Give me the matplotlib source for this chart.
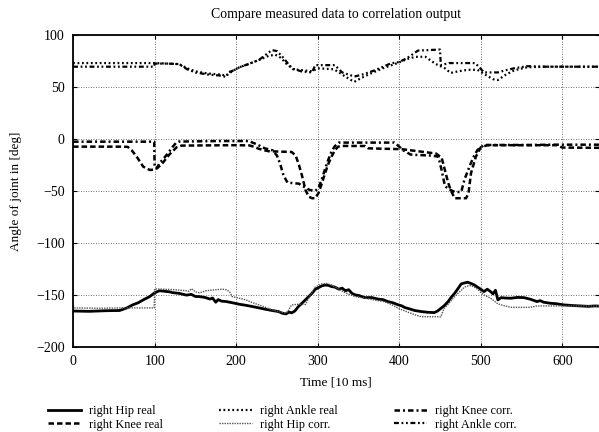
import numpy as np
import matplotlib
matplotlib.use('Agg')
import matplotlib.pyplot as plt

plt.rcParams['font.family'] = ['Liberation Serif', 'DejaVu Serif']

# (time [10 ms], angle [deg])
hip_real = [(0, -165.5), (20, -165.8), (40, -165.2), (57, -165.0), (66, -162.5), (73, -159.6),
            (80, -157.5), (86, -154.8), (94, -151.6), (100, -148), (106, -146), (112, -146.5),
            (118, -147), (122, -147.8), (130, -148.5), (139, -150.2), (145, -149.5), (150, -151.5),
            (155, -151.6), (162, -152.5), (168, -154), (171, -153), (175, -157), (178, -154.5),
            (182, -156), (188, -156.4), (195, -157.5), (204, -159), (212, -160), (220, -161.2),
            (228, -162.5), (236, -163.8), (244, -165), (252, -166), (256, -167.5), (261, -168.3),
            (265, -166.5), (268, -167.3), (272, -165.5), (276, -161.5), (282, -157), (289, -151.6),
            (293, -148.5), (297, -144.6), (301, -143), (305, -141.3), (309, -140.5), (313, -140.8),
            (317, -142), (321, -142.5), (326, -144.5), (330, -143.5), (334, -146), (338, -145),
            (342, -148.5), (346, -150), (350, -150.5), (358, -152.6), (366, -152.5), (374, -154),
            (380, -154.5), (386, -156.4), (392, -157.5), (399, -159.6), (403, -160.5), (407, -162.2),
            (413, -163.5), (419, -165), (427, -166), (435, -166.7), (443, -167), (447, -165.5),
            (451, -163), (455, -160.5), (460, -156.4), (464, -152), (468, -148.4), (472, -144),
            (476, -139.4), (480, -138.5), (484, -137.8), (488, -139), (492, -140.4), (496, -142.5),
            (500, -144.6), (504, -146.8), (508, -144.5), (512, -146.8), (515, -149), (518, -145.5),
            (521, -154.8), (525, -152.6), (530, -153), (537, -153.2), (545, -152.4), (553, -152.6),
            (561, -154.2), (569, -156.4), (573, -155.5), (577, -157), (585, -158), (593, -158.5),
            (602, -159.6), (612, -160.2), (622, -160.6), (632, -161), (640, -160.6), (645, -160.8)]

knee_real = [(0, -7.4), (60, -7.4), (67, -7.6), (72, -11), (78, -17), (86, -26.6), (94, -29.8),
             (100, -29.5), (104, -27.5), (110, -23), (118, -15), (127, -8), (133, -6.4), (160, -6.2),
             (200, -6), (216, -6.2), (222, -7.5), (228, -9.5), (235, -11), (240, -11.8), (255, -12.2),
             (268, -12.5), (273, -16), (277, -25), (281, -36), (285, -49), (289, -55.5), (293, -57),
             (297, -57), (301, -52), (305, -43), (309, -33), (313, -24), (317, -17), (321, -11),
             (325, -7.4), (330, -6.7), (358, -6.8), (362, -9), (380, -9.4), (403, -9.8), (415, -11),
             (430, -12.5), (445, -14), (452, -18), (456, -30), (460, -42), (463, -49), (468, -57),
             (482, -57), (485, -52), (488, -33), (494, -17), (500, -8), (508, -6), (550, -6),
             (594, -6), (600, -8.3), (645, -8.5)]

ankle_real = [(0, 73), (100, 73), (115, 72.5), (130, 72), (140, 68), (150, 65), (165, 63), (180, 62),
              (188, 61), (195, 65), (204, 69), (215, 72), (228, 76), (240, 80), (248, 81), (255, 78),
              (262, 72), (270, 67), (283, 66), (293, 65), (300, 68), (310, 67.5), (320, 67), (330, 62),
              (340, 57), (345, 55), (352, 58), (365, 63), (380, 68), (398, 73), (410, 77), (420, 79),
              (432, 79), (445, 72), (456, 68), (463, 63.5), (472, 65), (484, 66.5), (496, 66.5),
              (505, 62), (515, 57.5), (521, 56.7), (531, 62), (541, 66), (557, 69), (580, 69.5),
              (645, 69.5)]

hip_corr = [(0, -160), (2, -162.5), (30, -162.8), (60, -162.5), (99.5, -162.5), (100, -144.2),
            (110, -144.5), (125, -145), (139, -146), (142, -146.5), (145, -144), (150, -147),
            (155, -148), (163, -146), (175, -145), (183, -144.5), (188, -145), (192, -147),
            (195, -151.6), (203, -153), (212, -154.8), (220, -157.5), (228, -159.6), (236, -162),
            (244, -164.4), (252, -166), (261, -167.6), (264, -165), (268, -159.6), (276, -159),
            (285, -159.2), (291, -150), (297, -142.5), (305, -139.4), (311, -139), (317, -140.4),
            (323, -143), (329, -146), (337, -149), (346, -151.6), (358, -153.2), (370, -155),
            (382, -156.5), (390, -159), (399, -163), (407, -165.5), (415, -167.9), (421, -169.5),
            (427, -171), (439, -171), (451, -171), (455, -163), (460, -159), (468, -151.6),
            (474, -147), (480, -142.5), (484, -141.5), (488, -141), (492, -142.5), (496, -144.5),
            (500, -147.5), (504, -150), (512, -153.2), (521, -158.6), (529, -160.5), (537, -161.9),
            (549, -162), (561, -161.9), (569, -160.6), (585, -160.6), (610, -160.6), (645, -160.6)]

knee_corr = [(0, -2.6), (99.5, -2.6), (100, -27), (103, -28), (106, -23), (110, -20), (114, -16),
             (118, -12), (122, -7.7), (126, -4), (130, -2.5), (180, -2), (216, -2), (220, -3.5),
             (225, -5), (235, -9), (245, -11), (250, -16), (254, -24), (258, -35), (263, -42),
             (270, -42.5), (277, -43), (283, -46), (290, -49), (297, -50), (301, -47), (305, -39),
             (309, -29), (313, -20), (317, -12), (321, -7), (326, -3.5), (394, -3.5), (398, -6),
             (405, -11), (414, -15), (425, -15.5), (440, -16), (448, -17), (452, -30), (456, -45),
             (460, -48), (468, -51), (476, -51), (480, -39), (484, -31), (488, -23), (492, -16),
             (496, -10.6), (504, -5.8), (560, -5.8), (590, -5.5), (645, -5.5)]

ankle_corr = [(0, 69.5), (99.5, 69.5), (100, 72.5), (115, 72.5), (130, 72), (140, 67), (150, 64),
              (165, 62), (180, 61), (188, 59.6), (190, 64), (197, 66), (204, 69), (215, 72), (228, 76),
              (238, 82), (244, 85.5), (250, 84.5), (258, 78), (265, 71), (270, 67.5), (280, 65),
              (293, 64), (297, 71), (310, 71), (321, 71), (330, 64), (345, 60), (355, 62), (370, 66),
              (390, 72.8), (400, 74), (410, 78), (423, 85), (450, 86), (451, 71), (461, 73), (493, 73),
              (497, 70), (504, 64), (521, 64), (530, 66), (541, 68), (557, 70), (580, 69.5),
              (645, 69.5)]

series = [
    ('right Hip real', hip_real, dict(color='black', lw=2.0, ls='-')),
    ('right Knee real', knee_real, dict(color='black', lw=1.8, ls=(0, (2.2, 1.2)))),
    ('right Ankle real', ankle_real, dict(color='black', lw=1.6, ls=(0, (0.8, 1.2)))),
    ('right Hip corr.', hip_corr, dict(color='#555555', lw=1.0, ls=(0, (1, 0.8)))),
    ('right Knee corr.', knee_corr, dict(color='black', lw=1.8, ls=(0, (2.2, 1.2, 0.8, 1.2)))),
    ('right Ankle corr.', ankle_corr, dict(color='black', lw=1.6, ls=(0, (2.2, 1.2, 0.8, 1.2, 0.8, 1.2)))),
]

fig = plt.figure(figsize=(5.99, 4.32), dpi=100)
ax = fig.add_axes([0.122, 0.197, 0.878, 0.722])

for name, pts, style in series:
    t, v = np.array(pts).T
    ax.plot(t, v, label=name, **style)

ax.set_xlim(0, 645)
ax.set_ylim(-200, 100)
ax.set_xticks([0, 100, 200, 300, 400, 500, 600])
ax.set_yticks([-200, -150, -100, -50, 0, 50, 100])
ax.grid(True, color='#444444', lw=0.6, ls=(0, (1, 2)))
ax.tick_params(direction='in', top=True, right=True, length=3, labelsize=10, pad=6)
for s in ax.spines.values():
    s.set_linewidth(1.3)
ax.spines['right'].set_visible(False)

ax.set_title('Compare measured data to correlation output', fontsize=9.9, pad=12)
ax.set_xlabel('Time [10 ms]', fontsize=9.5, labelpad=6)
ax.set_ylabel('Angle of joint in [deg]', fontsize=9.5, labelpad=10)

fig.legend(loc='lower left', bbox_to_anchor=(0.062, -0.022), ncol=3, frameon=False,
           fontsize=8.8, handlelength=2.7, columnspacing=4.6, labelspacing=0.12,
           handletextpad=0.65)

fig.savefig('out.png', dpi=100)
